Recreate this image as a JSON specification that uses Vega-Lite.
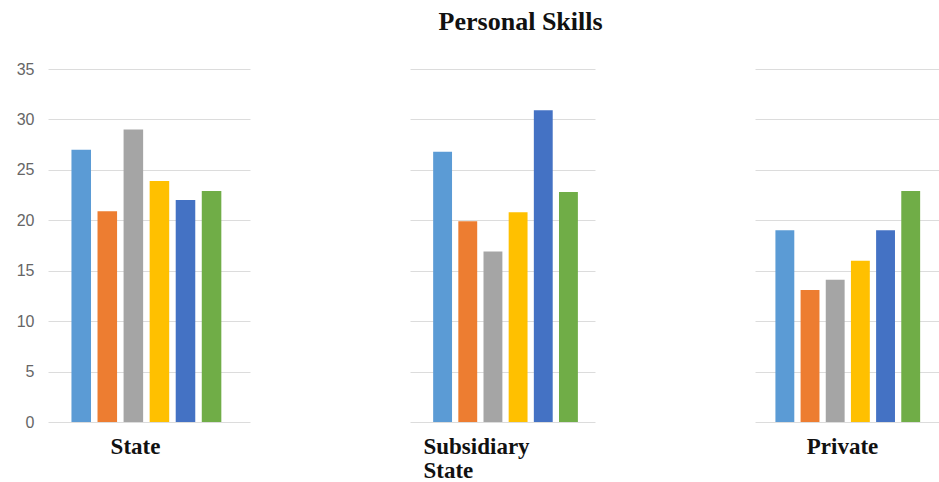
{
  "$schema": "https://vega.github.io/schema/vega-lite/v6.json",
  "padding": {"left": 16, "top": 9, "right": 0, "bottom": 0},
  "background": "white",
  "title": {"text": "Personal Skills", "font": "Liberation Serif", "fontSize": 26, "fontWeight": "bold", "color": "#111111", "anchor": "middle", "dx": 43, "offset": 26},
  "data": {"values": [
    {"sector": "State", "item": "S1", "value": 27},
    {"sector": "State", "item": "S2", "value": 20.9},
    {"sector": "State", "item": "S3", "value": 29},
    {"sector": "State", "item": "S4", "value": 23.9},
    {"sector": "State", "item": "S5", "value": 22},
    {"sector": "State", "item": "S6", "value": 22.9},
    {"sector": "Subsidiary State", "item": "S1", "value": 26.8},
    {"sector": "Subsidiary State", "item": "S2", "value": 19.9},
    {"sector": "Subsidiary State", "item": "S3", "value": 16.9},
    {"sector": "Subsidiary State", "item": "S4", "value": 20.8},
    {"sector": "Subsidiary State", "item": "S5", "value": 30.9},
    {"sector": "Subsidiary State", "item": "S6", "value": 22.8},
    {"sector": "Private", "item": "S1", "value": 19},
    {"sector": "Private", "item": "S2", "value": 13.1},
    {"sector": "Private", "item": "S3", "value": 14.1},
    {"sector": "Private", "item": "S4", "value": 16},
    {"sector": "Private", "item": "S5", "value": 19},
    {"sector": "Private", "item": "S6", "value": 22.9}
  ]},
  "spacing": 160,
  "config": {
    "view": {"stroke": null},
    "axis": {"gridColor": "#dcdcdc", "gridWidth": 1},
    "axisX": {"labels": false, "ticks": false, "domain": false, "grid": false, "titleFont": "Liberation Serif", "titleFontSize": 23, "titleFontWeight": "bold", "titleColor": "#111111", "titleBaseline": "alphabetic", "titleY": 31, "titleLineHeight": 24},
    "axisY": {"domain": false, "ticks": false, "grid": true, "labelFont": "Liberation Sans", "labelFontSize": 16, "labelColor": "#666666", "labelPadding": 14, "values": [0, 5, 10, 15, 20, 25, 30, 35], "labelOverlap": false, "title": null}
  },
  "hconcat": [
    {
      "width": 202, "height": 353,
      "transform": [{"filter": "datum.sector === 'State'"}],
      "mark": {"type": "bar"},
      "encoding": {
        "x": {"field": "item", "type": "nominal", "scale": {"paddingInner": 0.25, "paddingOuter": 1.13, "align": 0.45}, "axis": {"title": "State", "titleX": 87, "titleAlign": "center"}},
        "y": {"field": "value", "type": "quantitative", "scale": {"domain": [0, 35], "nice": false}, "axis": {"values": [0, 5, 10, 15, 20, 25, 30, 35]}},
        "color": {"field": "item", "type": "nominal", "scale": {"domain": ["S1", "S2", "S3", "S4", "S5", "S6"], "range": ["#5B9BD5", "#ED7D31", "#A5A5A5", "#FFC000", "#4472C4", "#70AD47"]}, "legend": null}
      }
    },
    {
      "width": 185, "height": 353,
      "transform": [{"filter": "datum.sector === 'Subsidiary State'"}],
      "mark": {"type": "bar"},
      "encoding": {
        "x": {"field": "item", "type": "nominal", "scale": {"paddingInner": 0.25, "paddingOuter": 0.8, "align": 0.575}, "axis": {"title": ["Subsidiary", "State"], "titleX": 13, "titleAlign": "left"}},
        "y": {"field": "value", "type": "quantitative", "scale": {"domain": [0, 35], "nice": false}, "axis": {"values": [0, 5, 10, 15, 20, 25, 30, 35], "labels": false}},
        "color": {"field": "item", "type": "nominal", "scale": {"domain": ["S1", "S2", "S3", "S4", "S5", "S6"], "range": ["#5B9BD5", "#ED7D31", "#A5A5A5", "#FFC000", "#4472C4", "#70AD47"]}, "legend": null}
      }
    },
    {
      "width": 184, "height": 353,
      "transform": [{"filter": "datum.sector === 'Private'"}],
      "mark": {"type": "bar"},
      "encoding": {
        "x": {"field": "item", "type": "nominal", "scale": {"paddingInner": 0.25, "paddingOuter": 0.78, "align": 0.52}, "axis": {"title": "Private", "titleX": 87, "titleAlign": "center"}},
        "y": {"field": "value", "type": "quantitative", "scale": {"domain": [0, 35], "nice": false}, "axis": {"values": [0, 5, 10, 15, 20, 25, 30, 35], "labels": false}},
        "color": {"field": "item", "type": "nominal", "scale": {"domain": ["S1", "S2", "S3", "S4", "S5", "S6"], "range": ["#5B9BD5", "#ED7D31", "#A5A5A5", "#FFC000", "#4472C4", "#70AD47"]}, "legend": null}
      }
    }
  ]
}
